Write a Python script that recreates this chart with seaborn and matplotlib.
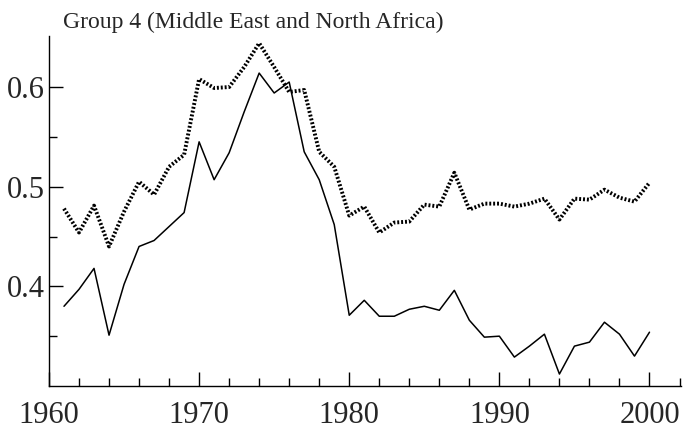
import numpy as np
import pandas as pd
import matplotlib
matplotlib.use("Agg")
import matplotlib.pyplot as plt
import seaborn as sns

# Data
years = list(range(1961, 2001))
solid_vals = [
    0.380, 0.397, 0.418, 0.351, 0.402, 0.440, 0.446, 0.460, 0.474, 0.545,
    0.507, 0.534, 0.575, 0.614, 0.594, 0.605, 0.535, 0.507, 0.462, 0.371,
    0.386, 0.370, 0.370, 0.377, 0.380, 0.376, 0.396, 0.366, 0.349, 0.350,
    0.329, 0.340, 0.352, 0.312, 0.340, 0.344, 0.364, 0.352, 0.330, 0.354,
]
dotted_vals = [
    0.478, 0.454, 0.481, 0.440, 0.475, 0.505, 0.492, 0.520, 0.532, 0.608,
    0.599, 0.600, 0.620, 0.644, 0.620, 0.595, 0.597, 0.535, 0.520, 0.471,
    0.480, 0.454, 0.464, 0.465, 0.482, 0.480, 0.514, 0.477, 0.483, 0.483,
    0.480, 0.483, 0.488, 0.467, 0.488, 0.487, 0.497, 0.489, 0.485, 0.504,
]
title = "Group 4 (Middle East and North Africa)"
x_ticks = [1960, 1970, 1980, 1990, 2000]
y_ticks = [0.4, 0.5, 0.6]

df = pd.DataFrame({"year": years, "solid": solid_vals, "dotted": dotted_vals})

sns.set_style("ticks")
plt.rcParams["font.family"] = ["Liberation Serif", "DejaVu Serif"]

fig = plt.figure(figsize=(6.87, 4.34), dpi=100)
ax = fig.add_axes([0.0713, 0.1106, 0.92, 0.806])

sns.lineplot(data=df, x="year", y="dotted", ax=ax, color="black",
             linewidth=2.8, linestyle=(0, (0.5, 0.5)))
sns.lineplot(data=df, x="year", y="solid", ax=ax, color="black",
             linewidth=1.1)

ax.set_xlim(1960, 2002.1)
ax.set_ylim(0.3, 0.651)
ax.set_xticks(x_ticks)
ax.set_xticks(np.arange(1962, 2003, 2), minor=True)
ax.set_yticks(y_ticks)
ax.set_yticks([0.35, 0.45, 0.55], minor=True)
ax.set_xticklabels([str(t) for t in x_ticks])
ax.set_yticklabels([f"{t:.1f}" for t in y_ticks])
ax.set_xlabel("")
ax.set_ylabel("")

ax.tick_params(axis="both", which="major", direction="in", length=10,
               width=1.0, color="black", labelsize=22)
ax.tick_params(axis="x", which="major", pad=11)
ax.tick_params(axis="y", which="major", pad=3)
ax.tick_params(axis="both", which="minor", direction="in", length=6,
               width=1.0, color="black")
for side in ["top", "right"]:
    ax.spines[side].set_visible(False)
for side in ["left", "bottom"]:
    ax.spines[side].set_color("black")
    ax.spines[side].set_linewidth(1.0)

fig.text(0.092, 0.972, title, fontsize=17, va="top", ha="left")

fig.savefig("out.png", dpi=100)
